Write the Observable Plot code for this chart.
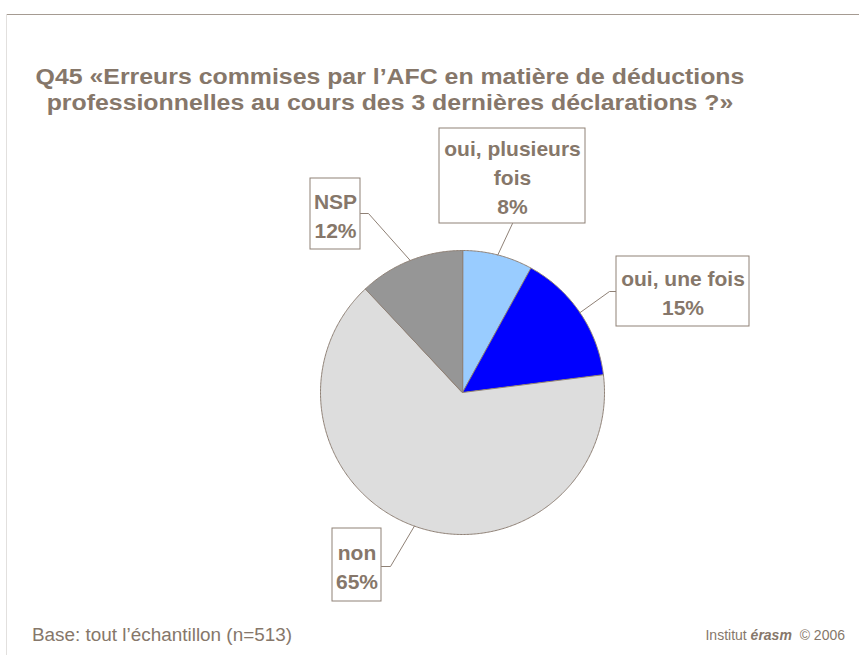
<!DOCTYPE html>
<html>
<head>
<meta charset="utf-8">
<script src="https://cdn.jsdelivr.net/npm/d3@7"></script>
<script src="https://cdn.jsdelivr.net/npm/@observablehq/plot@0.6"></script>
<style>
  html, body { margin: 0; padding: 0; background: #fff; }
  #page { position: relative; width: 859px; height: 655px; overflow: hidden; font-family: "Liberation Sans", Arial, sans-serif; color: #86776a; }
  #topline { position: absolute; left: 6px; top: 14px; width: 853px; height: 0; border-top: 1px solid #a59b92; }
  #leftline { position: absolute; left: 6px; top: 14px; width: 0; height: 641px; border-left: 1px solid #e2e0de; }
  #title { position: absolute; left: 0; width: 780px; top: 64px; text-align: center; font-size: 22px; font-weight: bold; line-height: 26px; white-space: nowrap; transform: scaleX(1.13); transform-origin: 390px 0; }
  #chart { position: absolute; left: 0; top: 120px; }
  #base { position: absolute; left: 32px; top: 625px; font-size: 18px; transform: scaleX(1.05); transform-origin: 0 0; }
  #credit { position: absolute; right: 14px; top: 627px; font-size: 14px; }
</style>
</head>
<body>
<div id="page">
  <div id="topline"></div>
  <div id="leftline"></div>
  <div id="title">Q45 «Erreurs commises par l’AFC en matière de déductions<br>professionnelles au cours des 3 dernières déclarations ?»</div>
  <div id="chart"></div>
  <div id="base">Base: tout l’échantillon (n=513)</div>
  <div id="credit">Institut <b><i>érasm</i></b>&nbsp; © 2006</div>
</div>
<script>
// ---- data ----
const categories = ["oui, plusieurs fois", "oui, une fois", "non", "NSP"];
const labelLines = [["oui, plusieurs", "fois"], ["oui, une fois"], ["non"], ["NSP"]];
const values = [8, 15, 65, 12];
const colors = ["#99CCFF", "#0000FF", "#DDDDDD", "#969696"];

// ---- layout (pixels, relative to pie centre) ----
const W = 859, H = 490, R = 142, CX = 462, CY = 272;
const boxLayout = [
  {dx: 50, dy: -216.5, w: 146, h: 95, elbow: [[50, -169]]},
  {dx: 220.5, dy: -101, w: 133, h: 70, elbow: [[147, -101], [154, -101]]},
  {dx: -105.5, dy: 172.5, w: 49, h: 73, elbow: [[-72, 174], [-81, 174]]},
  {dx: -127, dy: -178.5, w: 50, h: 71, elbow: [[-94, -179], [-102, -179]]}
];

const pie = d3.pie().sort(null).startAngle(0).endAngle(2 * Math.PI)(values);
const ink = "#86776a";
const edge = "#8f8176";

const marks = [];
pie.forEach((p, i) => {
  const pts = [{x: 0, y: 0}];
  const n = Math.max(2, Math.ceil((p.endAngle - p.startAngle) / 0.01));
  for (let k = 0; k <= n; k++) {
    const a = p.startAngle + (p.endAngle - p.startAngle) * k / n;
    pts.push({x: Math.sin(a), y: Math.cos(a)});
  }
  marks.push(Plot.line(pts, {x: "x", y: "y", curve: "linear-closed", fill: colors[i], stroke: edge, strokeWidth: 1}));
});

// leader lines
pie.forEach((p, i) => {
  const mid = (p.startAngle + p.endAngle) / 2;
  const pts = [{x: Math.sin(mid), y: Math.cos(mid)}].concat(
    boxLayout[i].elbow.map(([ex, ey]) => ({x: ex / R, y: -ey / R}))
  );
  marks.push(Plot.line(pts, {x: "x", y: "y", stroke: edge, strokeWidth: 1}));
});

// label boxes
const labels = categories.map((c, i) => {
  const b = boxLayout[i];
  return {
    text: labelLines[i].concat([values[i] + "%"]).join("\n"),
    x: b.dx / R, y: -b.dy / R,
    x1: (b.dx - b.w / 2) / R, x2: (b.dx + b.w / 2) / R,
    y1: -(b.dy - b.h / 2) / R, y2: -(b.dy + b.h / 2) / R
  };
});
marks.push(Plot.rect(labels, {x1: "x1", x2: "x2", y1: "y1", y2: "y2", fill: "white", stroke: edge, strokeWidth: 1}));
marks.push(Plot.text(labels, {x: "x", y: "y", text: "text", fill: ink, fontSize: 21, fontWeight: "bold", lineHeight: 1.38, fontFamily: "Liberation Sans, Arial, sans-serif"}));

const chart = Plot.plot({
  width: W, height: H,
  margin: 0,
  x: {domain: [-CX / R, (W - CX) / R], axis: null},
  y: {domain: [-(H - CY) / R, CY / R], axis: null},
  style: {background: "transparent", overflow: "visible"},
  marks
});
document.getElementById("chart").appendChild(chart);
</script>
</body>
</html>
